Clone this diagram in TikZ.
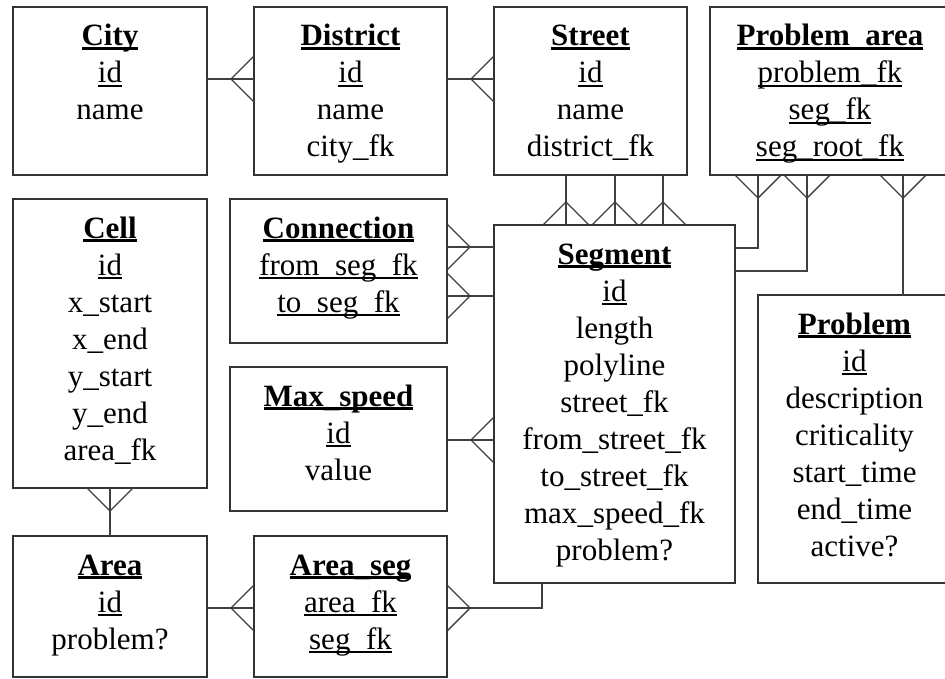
\documentclass[tikz,border=0pt]{standalone}
\usepackage{fontspec}
\setmainfont{Liberation Serif}

% underlined key attribute; the rule also hides the underscores
\newcommand\keyfield[1]{\leavevmode\setbox0=\hbox{#1}\setbox2=\hbox{\_}%
  \dimen2=\dp2 \ifdim\dimen2<3.8bp \dimen2=3.8bp\fi
  \dimen0=\dimen2 \advance\dimen0 by -1.6bp
  \rlap{\vrule height -\dimen0 depth \dimen2 width \wd0}\box0}
% bold, heavily underlined entity name
\newcommand\enttitle[1]{\leavevmode\setbox0=\hbox{\bfseries #1}\setbox2=\hbox{\bfseries\_}%
  \dimen2=\dp2 \ifdim\dimen2<4.3bp \dimen2=4.3bp\fi
  \dimen0=\dimen2 \advance\dimen0 by -3bp
  \rlap{\vrule height -\dimen0 depth \dimen2 width \wd0}\box0}

\begin{document}
\begin{tikzpicture}[x=1bp,y=-1bp,
  entity/.style={draw=black!80, line width=1.6bp, rectangle, inner sep=0pt,
    outer sep=0pt, anchor=north west},
  etext/.style={anchor=base, align=center, text width=260bp, inner sep=0pt,
    font=\fontsize{31bp}{37bp}\selectfont},
  link/.style={draw=black!75, line width=1.4bp},
  crowfoot/.pic={\draw[link] (0,-23) -- (-23,0) -- (0,23);}]

\useasboundingbox (0,0) rectangle (945,679);
\fill[white] (0,0) rectangle (945,679);
\clip (0,0) rectangle (945,679);

% ---------- entities ----------
\node[entity, minimum width=194bp, minimum height=168bp] (city) at (13,7) {};
\node[etext] (city-txt) at ([yshift=-39bp]city.north)
  {\enttitle{City}\\\keyfield{id}\\name};

\node[entity, minimum width=193bp, minimum height=168bp] (district) at (254,7) {};
\node[etext] (district-txt) at ([yshift=-39bp]district.north)
  {\enttitle{District}\\\keyfield{id}\\name\\city\_fk};

\node[entity, minimum width=193bp, minimum height=168bp] (street) at (494,7) {};
\node[etext] (street-txt) at ([yshift=-39bp]street.north)
  {\enttitle{Street}\\\keyfield{id}\\name\\district\_fk};

\node[entity, minimum width=240bp, minimum height=168bp] (parea) at (710,7) {};
\node[etext] (parea-txt) at ([yshift=-39bp]parea.north)
  {\enttitle{Problem\_area}\\\keyfield{problem\_fk}\\\keyfield{seg\_fk}\\\keyfield{seg\_root\_fk}};

\node[entity, minimum width=194bp, minimum height=289bp] (cell) at (13,199) {};
\node[etext] (cell-txt) at ([yshift=-39bp]cell.north)
  {\enttitle{Cell}\\\keyfield{id}\\x\_start\\x\_end\\y\_start\\y\_end\\area\_fk};

\node[entity, minimum width=217bp, minimum height=144bp] (conn) at (230,199) {};
\node[etext] (conn-txt) at ([yshift=-39bp]conn.north)
  {\enttitle{Connection}\\\keyfield{from\_seg\_fk}\\\keyfield{to\_seg\_fk}};

\node[entity, minimum width=217bp, minimum height=144bp] (maxsp) at (230,367) {};
\node[etext] (maxsp-txt) at ([yshift=-39bp]maxsp.north)
  {\enttitle{Max\_speed}\\\keyfield{id}\\value};

\node[entity, minimum width=241bp, minimum height=358bp] (seg) at (494,225) {};
\node[etext] (seg-txt) at ([yshift=-39bp]seg.north)
  {\enttitle{Segment}\\\keyfield{id}\\length\\polyline\\street\_fk\\from\_street\_fk\\to\_street\_fk\\max\_speed\_fk\\problem?};

\node[entity, minimum width=193bp, minimum height=288bp] (prob) at (758,295) {};
\node[etext] (prob-txt) at ([yshift=-39bp]prob.north)
  {\enttitle{Problem}\\\keyfield{id}\\description\\criticality\\start\_time\\end\_time\\active?};

\node[entity, minimum width=194bp, minimum height=141bp] (area) at (13,536) {};
\node[etext] (area-txt) at ([yshift=-39bp]area.north)
  {\enttitle{Area}\\\keyfield{id}\\problem?};

\node[entity, minimum width=193bp, minimum height=141bp] (aseg) at (254,536) {};
\node[etext] (aseg-txt) at ([yshift=-39bp]aseg.north)
  {\enttitle{Area\_seg}\\\keyfield{area\_fk}\\\keyfield{seg\_fk}};

% ---------- attachment points on the "many" sides ----------
\coordinate (cd)  at (district.west |- 0,79);
\coordinate (ds)  at (street.west |- 0,79);
\coordinate (ss1) at (seg.north -| 566,0);
\coordinate (ss2) at (seg.north -| 615,0);
\coordinate (ss3) at (seg.north -| 663,0);
\coordinate (cs1) at (conn.east |- 0,247);
\coordinate (cs2) at (conn.east |- 0,296);
\coordinate (ms)  at (seg.west |- 0,440);
\coordinate (ca)  at (cell.south -| 110,0);
\coordinate (aa)  at (aseg.west |- 0,608);
\coordinate (as)  at (aseg.east |- 0,608);
\coordinate (sb)  at (seg.south -| 542,0);
\coordinate (pa1) at (parea.south -| 758,0);
\coordinate (pa2) at (parea.south -| 807,0);
\coordinate (pa3) at (parea.south -| 903,0);
\coordinate (sp1) at (seg.east |- 0,248);
\coordinate (sp2) at (seg.east |- 0,271);

% ---------- relationships ----------
\draw[link] (city.east |- cd) -- (cd);
\pic at (cd) {crowfoot};
\draw[link] (district.east |- ds) -- (ds);
\pic at (ds) {crowfoot};

\foreach \p in {ss1,ss2,ss3}{
  \draw[link] (street.south -| \p) -- (\p);
  \pic[rotate=-90] at (\p) {crowfoot};
}

\draw[link] (cs1) -- (seg.west |- cs1);
\pic[rotate=180] at (cs1) {crowfoot};
\draw[link] (cs2) -- (seg.west |- cs2);
\pic[rotate=180] at (cs2) {crowfoot};

\draw[link] (maxsp.east |- ms) -- (ms);
\pic at (ms) {crowfoot};

\draw[link] (ca) -- (area.north -| ca);
\pic[rotate=90] at (ca) {crowfoot};

\draw[link] (area.east |- aa) -- (aa);
\pic at (aa) {crowfoot};

\draw[link] (as) -| (sb);
\pic[rotate=180] at (as) {crowfoot};

\draw[link] (pa1) |- (sp1);
\pic[rotate=90] at (pa1) {crowfoot};
\draw[link] (pa2) |- (sp2);
\pic[rotate=90] at (pa2) {crowfoot};
\draw[link] (pa3) -- (prob.north -| pa3);
\pic[rotate=90] at (pa3) {crowfoot};

\end{tikzpicture}
\end{document}
